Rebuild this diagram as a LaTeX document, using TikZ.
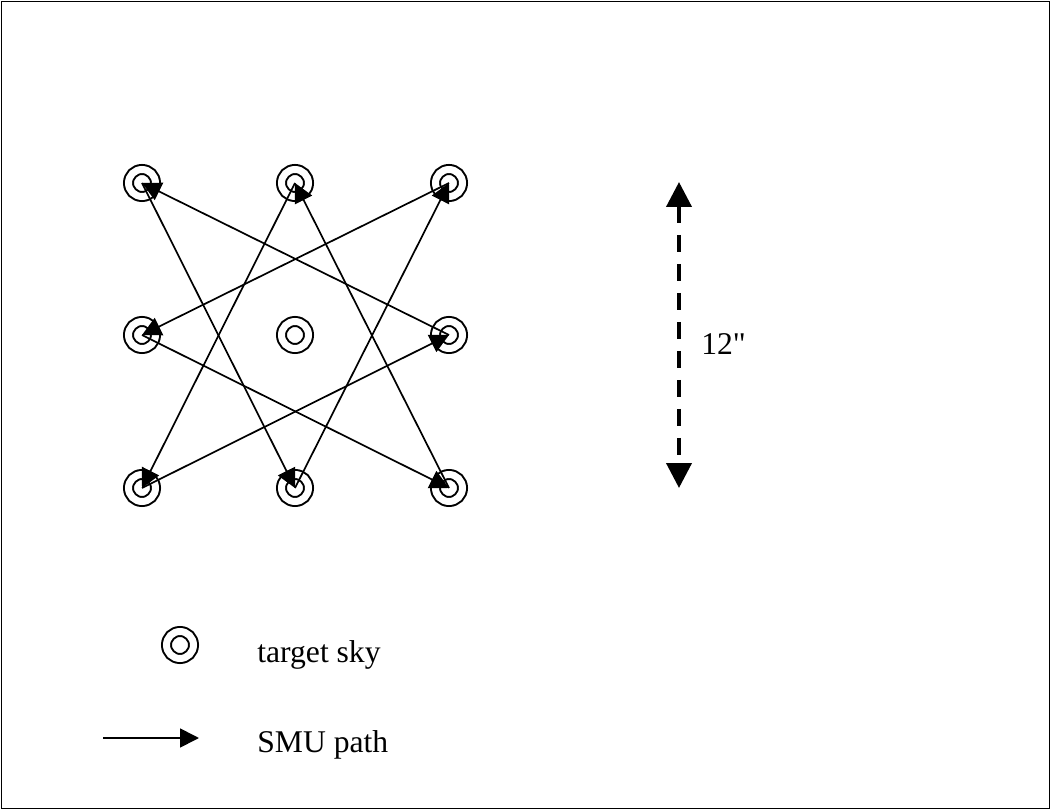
\documentclass[tikz,border=0pt]{standalone}
\usepackage{fontspec}
\setmainfont{Liberation Serif}
\newfontfamily\plainserif{Liberation Serif}
\usepackage{tikz}
\usetikzlibrary{arrows.meta}

\begin{document}
\begin{tikzpicture}[x=0.02cm, y=-0.02cm, font=\fontsize{18}{22}\selectfont,
	target/.style={circle, draw, double, double distance=0.14cm, line width=0.04cm, minimum size=0.54cm, inner sep=0pt},
	smupath/.style={-{Triangle[length=0.38cm, width=0.38cm]}, line width=0.034cm}]
	\useasboundingbox (0,0) rectangle (1051,810);
	\draw[line width=0.035cm] (1.5,1.5) rectangle (1049.5,808.5);
	% target grid
	\node[target] (tl) at (142,183) {};
	\node[target] (tm) at (295,183) {};
	\node[target] (tr) at (449,183) {};
	\node[target] (ml) at (142,335) {};
	\node[target] (mc) at (295,335) {};
	\node[target] (mr) at (449,335) {};
	\node[target] (bl) at (142,488) {};
	\node[target] (bm) at (295,488) {};
	\node[target] (br) at (449,488) {};
	% path
	\draw[smupath] (tl.center) -- (bm.center);
	\draw[smupath] (bm.center) -- (tr.center);
	\draw[smupath] (tr.center) -- (ml.center);
	\draw[smupath] (ml.center) -- (br.center);
	\draw[smupath] (br.center) -- (tm.center);
	\draw[smupath] (tm.center) -- (bl.center);
	\draw[smupath] (bl.center) -- (mr.center);
	\draw[smupath] (mr.center) -- (tl.center);
	% scale
	\coordinate (scaletop) at (679,182);
	\coordinate (scalebot) at (679,488);
	\draw[{Triangle[length=0.5cm, width=0.5cm]}-{Triangle[length=0.5cm, width=0.5cm]}, line width=0.08cm, dash pattern=on 0.34cm off 0.24cm] (scaletop) -- (scalebot);
	\node[anchor=base west, inner sep=0pt, font=\plainserif\fontsize{18}{22}\selectfont] (scalelbl) at (701,355) {12"};
	% legend
	\node[target] (keytarget) at (180,645) {};
	\node[anchor=base west, inner sep=0pt] (keytargetlbl) at (257,662) {target sky};
	\coordinate (keystart) at (103,738);
	\coordinate (keyend) at (199,738);
	\draw[smupath] (keystart) -- (keyend);
	\node[anchor=base west, inner sep=0pt] (keypathlbl) at (257,752) {SMU path};
\end{tikzpicture}
\end{document}
